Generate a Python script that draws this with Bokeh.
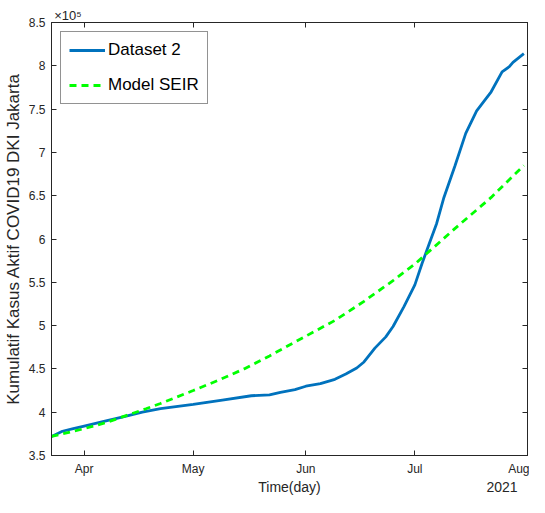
import pandas as pd
from bokeh.plotting import figure
from bokeh.models import (FixedTicker, CustomJSTickFormatter, DatetimeAxis, LinearAxis,
                          Range1d, Legend, LegendItem)
from bokeh.embed import file_html
from bokeh.resources import INLINE

# ---- data ----
blue_dates = ["2021-03-23", "2021-03-26", "2021-03-29", "2021-04-01", "2021-04-07",
              "2021-04-12", "2021-04-17", "2021-04-22", "2021-05-01", "2021-05-09",
              "2021-05-17", "2021-05-22", "2021-05-25", "2021-05-29", "2021-06-01",
              "2021-06-05", "2021-06-09", "2021-06-12", "2021-06-15", "2021-06-17",
              "2021-06-20", "2021-06-23", "2021-06-25", "2021-06-28", "2021-07-01",
              "2021-07-03", "2021-07-05", "2021-07-07", "2021-07-09", "2021-07-12",
              "2021-07-15", "2021-07-18", "2021-07-22", "2021-07-25", "2021-07-27",
              "2021-07-28", "2021-07-31"]
blue_vals = [372000, 378000, 381000, 384000, 390000,
             395000, 400000, 404000, 409000, 414000,
             419000, 420000, 423000, 426000, 430000,
             433000, 438000, 444000, 451000, 458000,
             474000, 487000, 499000, 522000, 547000,
             572000, 595000, 618000, 648000, 684000,
             722000, 748000, 770000, 793000, 799000,
             804000, 814000]

green_dates = ["2021-03-23", "2021-04-01", "2021-04-07", "2021-04-18", "2021-04-22",
               "2021-05-01", "2021-05-08", "2021-05-15", "2021-05-22", "2021-05-29",
               "2021-06-09", "2021-06-17", "2021-06-25", "2021-07-01", "2021-07-12",
               "2021-07-22", "2021-07-31"]
green_vals = [372000, 381000, 388000, 404000, 410000,
              425000, 437000, 450000, 465000, 481000,
              506000, 528000, 552000, 571000, 612000,
              648000, 685000]

x_ticks = ["2021-04-01", "2021-05-01", "2021-06-01", "2021-07-01", "2021-08-01"]
y_ticks = [350000, 400000, 450000, 500000, 550000, 600000, 650000, 700000, 750000, 800000, 850000]

# extra texts placed along the x direction (anchor date, text)
x_title = ("2021-05-27 12:00", "Time(day)")
year_label = ("2021-07-25", "2021")
exponent_label = ("2021-03-27 12:00", "×10⁵")

bx = pd.to_datetime(blue_dates)
gx = pd.to_datetime(green_dates)

def ms(d):
    return float(pd.Timestamp(d).value // 10**6)

tick_ms = [ms(d) for d in x_ticks]

FONT = "Liberation Sans"
TXT = "#262626"

p = figure(width=529, height=497, x_axis_type="datetime", output_backend="svg",
           toolbar_location=None, min_border_left=50, min_border_top=22,
           min_border_right=2, min_border_bottom=37)
p.x_range = Range1d(pd.Timestamp("2021-03-23"), pd.Timestamp("2021-08-01"))
p.y_range = Range1d(350000, 850000)
p.grid.visible = False
p.outline_line_color = TXT

r1 = p.line(bx, blue_vals, line_color="#0072BD", line_width=2.8)
r2 = p.line(gx, green_vals, line_color="#00FF00", line_width=2.8, line_dash="7 5")

xfmt = CustomJSTickFormatter(code="""
const m = ['Jan','Feb','Mar','Apr','May','Jun','Jul','Aug','Sep','Oct','Nov','Dec'];
return m[new Date(tick).getUTCMonth()];
""")
yfmt = CustomJSTickFormatter(code="return (tick/1e5).toString();")
blank = CustomJSTickFormatter(code="return '';")

def style(ax, size="12px"):
    ax.axis_line_color = TXT
    ax.major_tick_line_color = TXT
    ax.major_tick_in = 5
    ax.major_tick_out = 0
    ax.minor_tick_line_color = None
    ax.major_label_text_font = FONT
    ax.major_label_text_color = TXT
    ax.major_label_text_font_size = size
    ax.axis_label_text_font = FONT
    ax.axis_label_text_color = TXT
    ax.axis_label_text_font_style = "normal"
    ax.axis_label_text_font_size = "17px"

def text_axis(ax):
    ax.axis_line_color = None
    ax.major_tick_line_color = None
    ax.minor_tick_line_color = None
    ax.major_tick_in = 0
    ax.major_tick_out = 0

xa = p.xaxis[0]
xa.ticker = FixedTicker(ticks=tick_ms)
xa.formatter = xfmt
xa.major_label_standoff = 6
style(xa)

# second row below: axis title and year, written as tick labels
xb = DatetimeAxis(ticker=FixedTicker(ticks=[ms(x_title[0]), ms(year_label[0])]),
                  major_label_overrides={ms(x_title[0]): x_title[1],
                                         ms(year_label[0]): year_label[1]},
                  major_label_standoff=0)
style(xb, "14px")
text_axis(xb)
p.add_layout(xb, "below")

ya = p.yaxis[0]
ya.ticker = FixedTicker(ticks=y_ticks)
ya.formatter = yfmt
ya.axis_label = "Kumulatif Kasus Aktif COVID19 DKI Jakarta"
ya.major_label_standoff = 6
ya.axis_label_standoff = 3
style(ya)

top = DatetimeAxis(ticker=FixedTicker(ticks=tick_ms), formatter=blank, major_label_standoff=0)
style(top)
p.add_layout(top, "above")

top2 = DatetimeAxis(ticker=FixedTicker(ticks=[ms(exponent_label[0])]),
                    major_label_overrides={ms(exponent_label[0]): exponent_label[1]},
                    major_label_standoff=0)
style(top2, "13px")
text_axis(top2)
p.add_layout(top2, "above")

right = LinearAxis(ticker=FixedTicker(ticks=y_ticks), formatter=blank, major_label_standoff=0)
style(right)
p.add_layout(right, "right")

legend = Legend(items=[LegendItem(label="Dataset 2", renderers=[r1]),
                       LegendItem(label="Model SEIR", renderers=[r2])],
                location="top_left")
legend.margin = 9
legend.padding = 8
legend.spacing = 15
legend.glyph_width = 36
legend.glyph_height = 20
legend.label_height = 20
legend.label_standoff = 3
legend.label_text_font = FONT
legend.label_text_font_size = "17px"
legend.label_text_color = "#000000"
legend.border_line_color = TXT
legend.border_line_width = 1
p.add_layout(legend)

open("out.html", "w").write(file_html(p, INLINE))
